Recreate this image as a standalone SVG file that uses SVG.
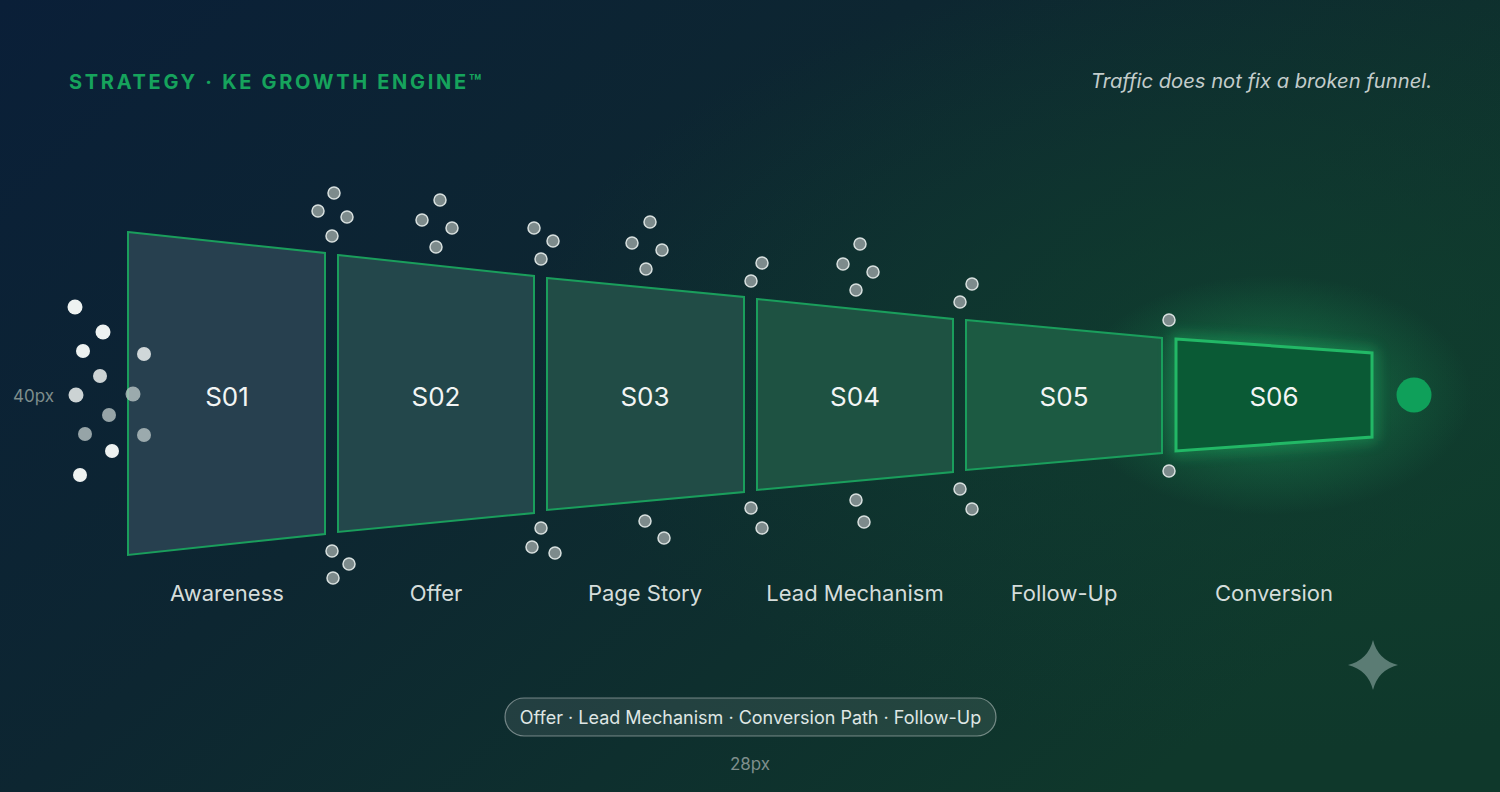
<svg xmlns="http://www.w3.org/2000/svg" width="1500" height="792" viewBox="0 0 1500 792">
<defs>
<linearGradient id="bg" x1="0" y1="0" x2="1" y2="0.6">
<stop offset="0" stop-color="#0a1f38"/>
<stop offset="0.45" stop-color="#0d2631"/>
<stop offset="1" stop-color="#0f382b"/>
</linearGradient>
<radialGradient id="bgglow" cx="0.85" cy="0.45" r="0.5">
<stop offset="0" stop-color="#10402f" stop-opacity="0.8"/>
<stop offset="1" stop-color="#10402f" stop-opacity="0"/>
</radialGradient>
<radialGradient id="glow" cx="0.5" cy="0.5" r="0.5">
<stop offset="0" stop-color="#1fb866" stop-opacity="0.5"/>
<stop offset="0.6" stop-color="#1fb866" stop-opacity="0.18"/>
<stop offset="1" stop-color="#1fb866" stop-opacity="0"/>
</radialGradient>
<filter id="soft" x="-20%" y="-20%" width="140%" height="140%">
<feGaussianBlur stdDeviation="7"/>
</filter>
<style>
.seg{stroke:#1a9e5c;stroke-width:2;}
.lbl{font-family:Inter,"Noto Sans",sans-serif;font-size:26px;fill:#f2f5f4;text-anchor:middle;}
.stage{font-family:Inter,"Noto Sans",sans-serif;font-size:22px;fill:#d5dddb;text-anchor:middle;}
.dot{fill:#7d8b8c;stroke:#d8e0df;stroke-width:1.5;}
.wdot{fill:#eef2f1;}
.gdot{fill:#b9c4c4;opacity:0.8;}
.note{font-family:Inter,"Noto Sans",sans-serif;font-size:17px;fill:#7e8e8c;}
</style>
</defs>
<rect width="1500" height="792" fill="url(#bg)"/>
<rect width="1500" height="792" fill="url(#bgglow)"/>

<g id="title">
<text x="69" y="89" font-family="Inter,'Noto Sans',sans-serif" font-size="20" font-weight="700" letter-spacing="2.7" fill="#16a35c">STRATEGY · KE GROWTH ENGINE™</text>
</g>
<g id="tagline">
<text x="1432" y="88" font-family="Inter,'Noto Sans',sans-serif" font-size="20.2" font-style="italic" fill="#c3cccb" text-anchor="end">Traffic does not fix a broken funnel.</text>
</g>

<g id="label-40px"><text class="note" x="13" y="402">40px</text></g>

<ellipse cx="1272" cy="395" rx="200" ry="120" fill="url(#glow)"/>

<g id="s01">
<polygon class="seg" points="128,232 325,253 325,534 128,555" fill="#27404f"/>
<text class="lbl" x="227" y="406">S01</text>
<text class="stage" x="227" y="601">Awareness</text>
</g>
<g id="s02">
<polygon class="seg" points="338,255 534,276 534,513 338,532" fill="#23474b"/>
<text class="lbl" x="436" y="406">S02</text>
<text class="stage" x="436" y="601">Offer</text>
</g>
<g id="s03">
<polygon class="seg" points="547,278 744,297 744,492 547,510" fill="#214c46"/>
<text class="lbl" x="645" y="406">S03</text>
<text class="stage" x="645" y="601">Page Story</text>
</g>
<g id="s04">
<polygon class="seg" points="757,299 953,319 953,472 757,490" fill="#1e5242"/>
<text class="lbl" x="855" y="406">S04</text>
<text class="stage" x="855" y="601">Lead Mechanism</text>
</g>
<g id="s05">
<polygon class="seg" points="966,320 1162,338 1162,453 966,470" fill="#1c5a42"/>
<text class="lbl" x="1064" y="406">S05</text>
<text class="stage" x="1064" y="601">Follow-Up</text>
</g>
<g id="s06">
<polygon points="1176,339 1372,353 1372,437 1176,451" fill="none" stroke="#22c46c" stroke-width="8" opacity="0.5" filter="url(#soft)"/>
<polygon points="1176,339 1372,353 1372,437 1176,451" fill="#0a5a35" stroke="#22b866" stroke-width="3"/>
<text class="lbl" x="1274" y="406">S06</text>
<text class="stage" x="1274" y="601">Conversion</text>
</g>

<g id="end-point"><circle cx="1414" cy="395" r="17.5" fill="#0fa05a"/></g>

<g id="entry-dots">
<circle class="wdot" cx="75" cy="307" r="7.5"/>
<circle class="wdot" cx="103" cy="332" r="7.5"/>
<circle class="wdot" cx="83" cy="351" r="7"/>
<circle class="wdot" cx="100" cy="376" r="7" opacity="0.85"/>
<circle class="wdot" cx="76" cy="395" r="7.5" opacity="0.85"/>
<circle class="gdot" cx="109" cy="415" r="7"/>
<circle class="gdot" cx="85" cy="434" r="7"/>
<circle class="wdot" cx="112" cy="451" r="7"/>
<circle class="wdot" cx="80" cy="475" r="7"/>
<circle class="wdot" cx="144" cy="354" r="7" opacity="0.85"/>
<circle class="gdot" cx="133" cy="394" r="7.5"/>
<circle class="gdot" cx="144" cy="435" r="7"/>
</g>

<g id="leak-dots">
<circle class="dot" cx="334" cy="193" r="6"/>
<circle class="dot" cx="318" cy="211" r="6"/>
<circle class="dot" cx="347" cy="217" r="6"/>
<circle class="dot" cx="332" cy="236" r="6"/>
<circle class="dot" cx="440" cy="200" r="6"/>
<circle class="dot" cx="422" cy="220" r="6"/>
<circle class="dot" cx="452" cy="228" r="6"/>
<circle class="dot" cx="436" cy="247" r="6"/>
<circle class="dot" cx="534" cy="228" r="6"/>
<circle class="dot" cx="553" cy="241" r="6"/>
<circle class="dot" cx="541" cy="259" r="6"/>
<circle class="dot" cx="650" cy="222" r="6"/>
<circle class="dot" cx="632" cy="243" r="6"/>
<circle class="dot" cx="662" cy="250" r="6"/>
<circle class="dot" cx="646" cy="269" r="6"/>
<circle class="dot" cx="762" cy="263" r="6"/>
<circle class="dot" cx="751" cy="281" r="6"/>
<circle class="dot" cx="860" cy="244" r="6"/>
<circle class="dot" cx="843" cy="264" r="6"/>
<circle class="dot" cx="873" cy="272" r="6"/>
<circle class="dot" cx="856" cy="290" r="6"/>
<circle class="dot" cx="972" cy="284" r="6"/>
<circle class="dot" cx="960" cy="302" r="6"/>
<circle class="dot" cx="1169" cy="320" r="6"/>
<circle class="dot" cx="332" cy="551" r="6"/>
<circle class="dot" cx="349" cy="564" r="6"/>
<circle class="dot" cx="333" cy="578" r="6"/>
<circle class="dot" cx="541" cy="528" r="6"/>
<circle class="dot" cx="532" cy="547" r="6"/>
<circle class="dot" cx="555" cy="553" r="6"/>
<circle class="dot" cx="645" cy="521" r="6"/>
<circle class="dot" cx="664" cy="538" r="6"/>
<circle class="dot" cx="751" cy="508" r="6"/>
<circle class="dot" cx="762" cy="528" r="6"/>
<circle class="dot" cx="856" cy="500" r="6"/>
<circle class="dot" cx="864" cy="522" r="6"/>
<circle class="dot" cx="960" cy="489" r="6"/>
<circle class="dot" cx="972" cy="509" r="6"/>
<circle class="dot" cx="1169" cy="471" r="6"/>
</g>

<g id="pill">
<rect x="505" y="698" width="491" height="38" rx="19" fill="#ffffff" fill-opacity="0.09" stroke="#ffffff" stroke-opacity="0.4" stroke-width="1.2"/>
<text x="750.5" y="724" font-family="Inter,'Noto Sans',sans-serif" font-size="18" fill="#dfe6e4" text-anchor="middle">Offer · Lead Mechanism · Conversion Path · Follow-Up</text>
</g>
<g id="label-28px"><text class="note" x="750" y="770" text-anchor="middle">28px</text></g>

<g id="sparkle">
<path d="M1373,640 Q1378,660 1398,665 Q1378,670 1373,690 Q1368,670 1348,665 Q1368,660 1373,640 Z" fill="#5b7c74"/>
</g>
</svg>
